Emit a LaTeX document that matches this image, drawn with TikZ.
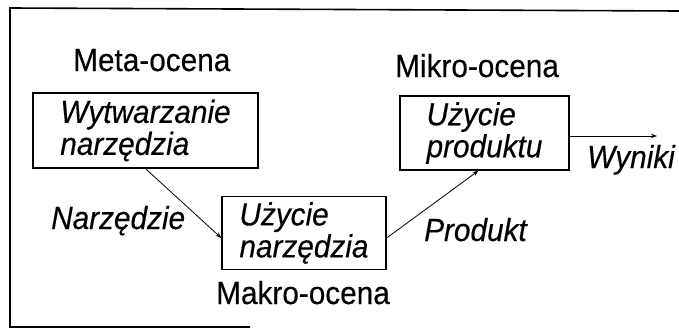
\documentclass[tikz,border=0pt]{standalone}
\usepackage{fontspec}
\setmainfont{Liberation Sans}[FakeStretch=0.93, FakeBold=0.3,
  ItalicFeatures={FakeStretch=0.93, FakeBold=0.3}]
\usetikzlibrary{arrows.meta}
\tikzset{
  stage/.style={draw=black, line width=1.3pt, align=left, inner sep=0pt,
    font=\fontsize{32}{32}\selectfont\itshape},
  level/.style={font=\fontsize{32}{32}\selectfont, inner sep=0pt},
  flowlabel/.style={font=\fontsize{32}{32}\selectfont\itshape, inner sep=0pt},
  flow/.style={line width=0.8pt, -{Stealth[length=6pt,width=4.5pt]}},
  frameline/.style={line width=1.6pt}
}
\begin{document}
\begin{tikzpicture}[x=1pt,y=-1pt]
  \useasboundingbox (0,0) rectangle (679,332);
  \fill[white] (0,0) rectangle (679,332);
  % outer frame, open on the right
  \draw[frameline] (679,11) -- (10,8) -- (10,327) -- (250,327);

  % process stages
  \node[stage, minimum width=225pt, minimum height=75pt] (tool)
    at (145.5,130.5) {Wytwarzanie\\narzędzia};
  \node[stage, minimum width=164pt, minimum height=73pt] (usetool)
    at (304,233) {Użycie\\narzędzia};
  \node[stage, minimum width=169pt, minimum height=74pt] (useprod)
    at (484.5,133) {Użycie\\produktu};

  % evaluation levels
  \node[level, anchor=base west] (meta) at (73,71) {Meta-ocena};
  \node[level, anchor=base west] (mikro) at (395,77) {Mikro-ocena};
  \node[level, anchor=base west] (makro) at (216,304) {Makro-ocena};

  % flow labels
  \node[flowlabel, anchor=base west] (ltool) at (51,229) {Narzędzie};
  \node[flowlabel, anchor=base west] (lprod) at (424,241) {Produkt};
  \node[flowlabel, anchor=base west] (lres) at (587,168) {Wyniki};

  \coordinate (out) at (657,136);

  % connectors
  \draw[flow] (tool.south) -- ([yshift=-5pt]usetool.west);
  \draw[flow] ([yshift=-5pt]usetool.east) -- ([xshift=-6pt]useprod.south);
  \draw[flow] ([yshift=-3pt]useprod.east) -- (out);
\end{tikzpicture}
\end{document}
